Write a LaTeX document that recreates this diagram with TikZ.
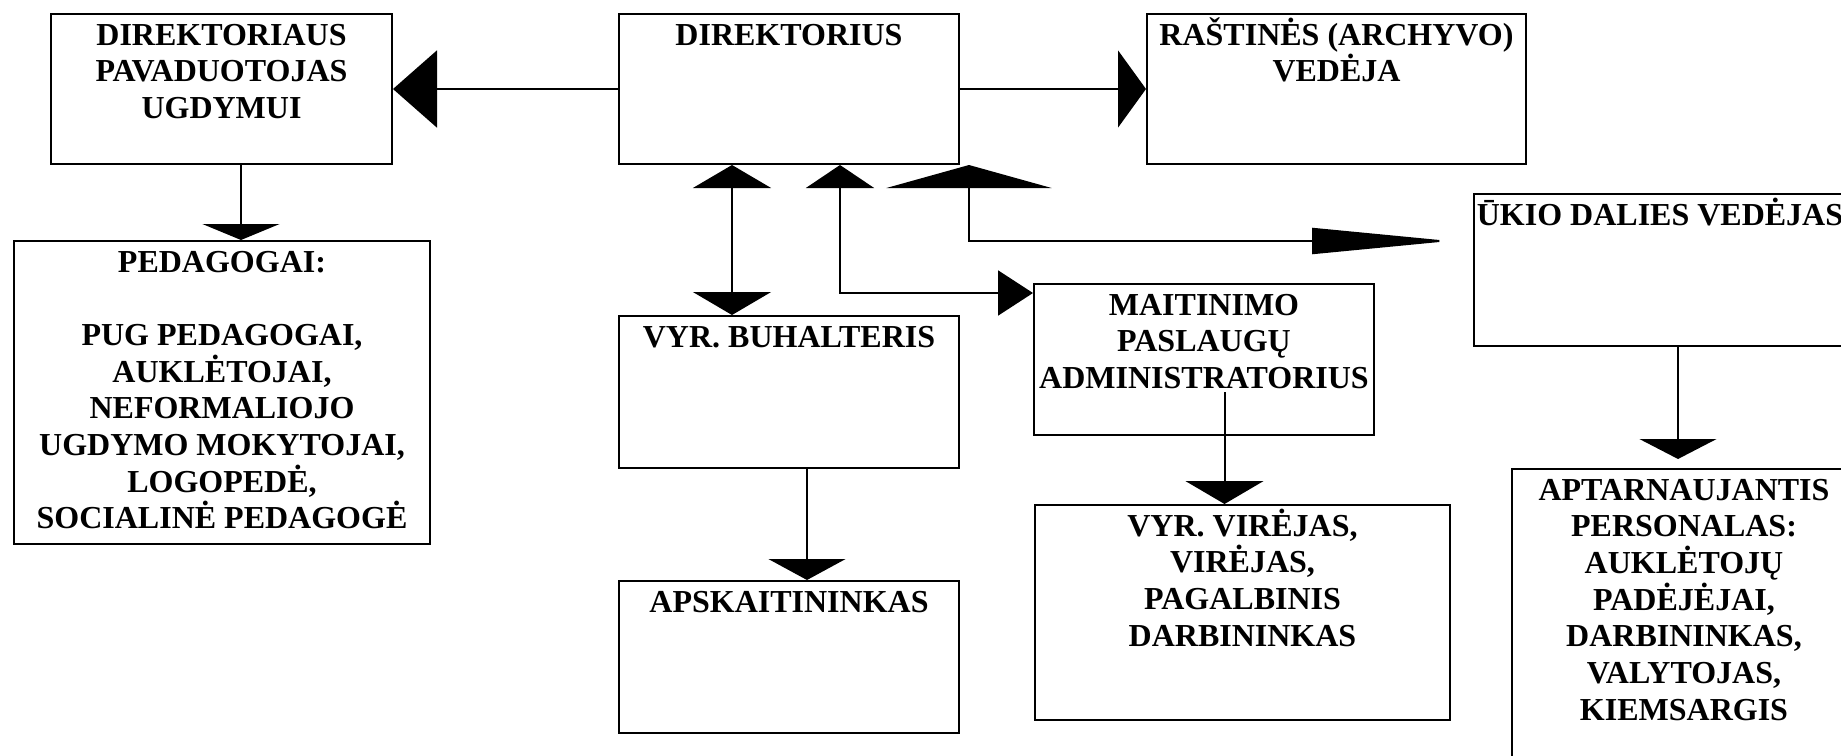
\documentclass[tikz,border=0pt]{standalone}
\usepackage{fontspec}
\setmainfont{Liberation Serif}
\usetikzlibrary{arrows.meta}

\tikzset{
  unit/.style={draw, line width=2pt, inner sep=0pt, anchor=north west,
    font=\bfseries\fontsize{32}{36.7}\selectfont},
  link/.style={line width=2pt},
}
\newcommand{\unittext}[3]{\parbox[t][#2][t]{#1}{\centering\rule{0pt}{31pt}#3}}

\begin{document}
\begin{tikzpicture}[x=1pt,y=-1pt]
  \useasboundingbox (0,0) rectangle (1841,755);
  \clip (0,0) rectangle (1841,755);

  % boxes
  \node[unit] (dirpav) at (50,13)   {\unittext{341pt}{150pt}{DIREKTORIAUS\\PAVADUOTOJAS\\UGDYMUI}};
  \node[unit] (dir)    at (618,13)  {\unittext{340pt}{150pt}{DIREKTORIUS}};
  \node[unit] (rast)   at (1146,13) {\unittext{379pt}{150pt}{RAŠTINĖS (ARCHYVO)\\VEDĖJA}};
  \node[unit] (ped)    at (13,240)  {\unittext{416pt}{303pt}{PEDAGOGAI:\\[36.7pt]PUG PEDAGOGAI,\\AUKLĖTOJAI,\\NEFORMALIOJO\\UGDYMO MOKYTOJAI,\\LOGOPEDĖ,\\SOCIALINĖ PEDAGOGĖ}};
  \node[unit] (buh)    at (618,315) {\unittext{340pt}{152pt}{VYR. BUHALTERIS}};
  \node[unit] (apsk)   at (618,580) {\unittext{340pt}{152pt}{APSKAITININKAS}};
  \node[unit] (mait)   at (1033,283) {\unittext{340pt}{151pt}{MAITINIMO\\PASLAUGŲ\\ADMINISTRATORIUS}};
  \node[unit] (vir)    at (1034,504) {\unittext{415pt}{215pt}{VYR. VIRĖJAS,\\VIRĖJAS,\\PAGALBINIS\\DARBININKAS}};
  \node[unit] (ukio)   at (1473,193) {\unittext{372pt}{152pt}{ŪKIO DALIES VEDĖJAS}};
  \node[unit] (aptar)  at (1511,468) {\unittext{344pt}{310pt}{APTARNAUJANTIS\\PERSONALAS:\\AUKLĖTOJŲ\\PADĖJĖJAI,\\DARBININKAS,\\VALYTOJAS,\\KIEMSARGIS}};

  % connectors
  \draw[link, -{Triangle[length=44pt,width=77pt]}] (dir.west) -- (dirpav.east);
  \draw[link, -{Triangle[length=28pt,width=77pt]}] (dir.east) -- (rast.west);
  \draw[link, -{Triangle[length=16pt,width=77pt]}] ([xshift=19.5pt]dirpav.south) -- ([xshift=19.5pt]dirpav.south |- ped.north);
  \draw[link, {Triangle[length=23pt,width=78pt]}-{Triangle[length=23pt,width=78pt]}] ([xshift=-57pt]dir.south) -- ([xshift=-57pt]buh.north);
  \draw[link, {Triangle[length=35pt,width=45pt]}-{Triangle[length=23pt,width=68pt]}] ([yshift=-10pt]mait.north west) -| ([xshift=51pt]dir.south);
  \draw[link, {Triangle[length=23pt,width=165pt]}-{Triangle[length=138pt,width=26pt]}] ([xshift=9pt]dir.south east) |- ([xshift=-23pt,yshift=-48pt]ukio.north west);
  \draw[link, -{Triangle[length=23pt,width=78pt]}] ([xshift=20.5pt,yshift=44pt]mait.south) -- ([xshift=20.5pt]mait.south |- vir.north);
  \draw[link, -{Triangle[length=21pt,width=77pt]}] ([xshift=18pt]buh.south) -- ([xshift=18pt]buh.south |- apsk.north);
  \draw[link, -{Triangle[length=20pt,width=77pt]}] ([xshift=18pt]ukio.south) -- ([xshift=18pt,yshift=9pt]ukio.south |- aptar.north);
\end{tikzpicture}
\end{document}
